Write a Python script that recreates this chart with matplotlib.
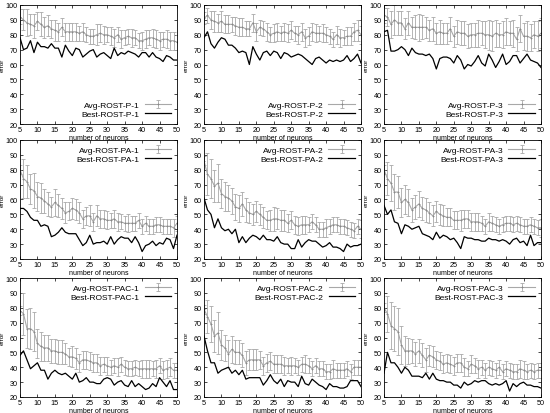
import matplotlib.pyplot as plt
import numpy as np

neurons = np.arange(5, 51)

# ---- ROST-P ----
avg_p1 = [92, 90, 88, 87, 86, 89, 87, 85, 86, 84, 83, 82, 85, 82, 82, 82, 82, 81, 82, 80, 79, 79, 80,
          81, 80, 80, 79, 78, 80, 77, 78, 79, 78, 78, 76, 76, 77, 78, 78, 77, 76, 77, 77, 76, 76, 75]
err_p1 = [5, 7, 9, 7, 8, 6, 8, 7, 7, 6, 7, 6, 6, 6, 6, 6, 6, 5, 6, 5, 5, 5, 7,
          6, 6, 5, 6, 6, 5, 6, 5, 5, 6, 5, 5, 6, 6, 5, 6, 6, 6, 5, 6, 6, 6, 5]
best_p1 = [78, 70, 71, 76, 68, 75, 72, 72, 71, 74, 71, 71, 65, 73, 69, 66, 71, 70, 65, 67, 69, 70, 65,
           67, 68, 66, 64, 71, 66, 68, 67, 69, 68, 67, 65, 68, 68, 65, 68, 65, 64, 62, 66, 65, 63, 63]

avg_p2 = [91, 93, 90, 89, 88, 89, 87, 87, 87, 86, 85, 85, 84, 84, 88, 82, 85, 84, 82, 80, 81, 82, 81,
          82, 81, 83, 81, 80, 82, 78, 79, 82, 81, 81, 81, 80, 79, 77, 80, 78, 78, 79, 79, 82, 83, 80]
err_p2 = [4, 5, 6, 7, 6, 7, 6, 6, 5, 6, 6, 6, 5, 5, 6, 6, 5, 5, 6, 5, 6, 6, 5,
          6, 6, 6, 5, 6, 6, 6, 6, 6, 6, 5, 6, 5, 5, 5, 6, 6, 5, 6, 6, 6, 7, 6]
best_p2 = [78, 82, 74, 71, 75, 78, 77, 73, 73, 71, 68, 69, 68, 60, 72, 67, 63, 68, 69, 66, 69, 68, 64,
           68, 67, 65, 66, 67, 66, 64, 62, 60, 64, 65, 63, 61, 63, 62, 63, 62, 63, 66, 62, 64, 67, 61]

avg_p3 = [93, 92, 87, 90, 88, 88, 84, 88, 85, 85, 85, 85, 85, 83, 84, 81, 82, 81, 81, 84, 79, 82, 81,
          81, 79, 80, 80, 81, 81, 80, 80, 79, 81, 80, 80, 82, 81, 81, 77, 84, 79, 79, 78, 80, 79, 81]
err_p3 = [5, 6, 9, 10, 8, 8, 7, 8, 7, 8, 9, 8, 7, 7, 8, 7, 8, 7, 7, 8, 7, 8, 8,
          8, 8, 8, 8, 9, 8, 9, 10, 10, 9, 8, 9, 9, 8, 9, 8, 9, 9, 10, 9, 9, 10, 10]
best_p3 = [82, 83, 69, 69, 70, 72, 70, 66, 71, 68, 67, 67, 66, 67, 64, 57, 64, 65, 65, 64, 61, 66, 63,
           57, 60, 59, 62, 66, 61, 59, 67, 63, 58, 62, 67, 60, 62, 66, 66, 61, 64, 67, 63, 62, 61, 58]

# ---- ROST-PA ----
avg_pa1 = [80, 74, 72, 67, 66, 62, 61, 59, 57, 55, 58, 56, 54, 51, 52, 54, 53, 51, 47, 49, 49, 45, 49,
           47, 47, 46, 46, 47, 45, 45, 44, 44, 44, 44, 46, 42, 44, 42, 42, 43, 43, 42, 42, 42, 41, 44]
err_pa1 = [3, 13, 11, 10, 12, 10, 10, 8, 8, 7, 9, 8, 7, 7, 6, 7, 7, 7, 6, 6, 7, 6, 7,
           6, 6, 6, 5, 6, 6, 5, 5, 6, 5, 5, 5, 5, 5, 5, 5, 5, 5, 5, 5, 5, 6, 5]
best_pa1 = [54, 54, 52, 48, 46, 46, 42, 43, 42, 35, 36, 38, 41, 38, 37, 37, 37, 33, 29, 31, 36, 30, 31,
            31, 32, 30, 35, 30, 33, 35, 34, 34, 31, 35, 31, 25, 29, 30, 32, 29, 31, 30, 34, 33, 27, 36]

avg_pa2 = [86, 77, 74, 69, 71, 64, 62, 61, 59, 55, 54, 57, 53, 51, 50, 52, 50, 48, 46, 46, 47, 47, 46,
           46, 44, 46, 43, 42, 43, 43, 43, 45, 43, 40, 40, 41, 42, 43, 43, 42, 42, 41, 40, 39, 42, 40]
err_pa2 = [3, 14, 13, 11, 13, 10, 10, 9, 9, 9, 9, 8, 8, 7, 7, 7, 7, 7, 6, 7, 8, 7, 7,
           7, 6, 6, 6, 6, 6, 6, 5, 5, 5, 5, 5, 6, 5, 5, 5, 5, 5, 5, 5, 5, 5, 6]
best_pa2 = [61, 53, 50, 41, 47, 41, 39, 40, 37, 40, 31, 35, 31, 34, 36, 35, 33, 36, 33, 33, 32, 35, 31,
            30, 30, 27, 27, 33, 28, 31, 33, 32, 32, 30, 28, 29, 31, 28, 28, 27, 25, 30, 28, 29, 29, 30]

avg_pa3 = [80, 74, 71, 65, 65, 58, 60, 58, 53, 55, 57, 54, 53, 51, 49, 52, 50, 49, 48, 48, 46, 46, 46,
           47, 47, 45, 45, 45, 44, 42, 45, 44, 43, 42, 43, 44, 44, 43, 44, 43, 42, 42, 43, 42, 41, 41]
err_pa3 = [3, 11, 12, 12, 11, 10, 10, 9, 8, 8, 9, 8, 8, 7, 7, 7, 7, 7, 6, 6, 6, 6, 7,
           6, 6, 6, 6, 6, 5, 5, 6, 5, 5, 5, 5, 5, 5, 5, 5, 5, 5, 5, 5, 5, 5, 6]
best_pa3 = [56, 50, 53, 45, 44, 37, 43, 42, 40, 41, 42, 37, 36, 35, 33, 38, 34, 36, 35, 33, 34, 31, 27,
            35, 34, 34, 33, 33, 32, 32, 34, 33, 33, 32, 33, 32, 30, 33, 34, 31, 32, 29, 36, 29, 31, 31]

# ---- ROST-PAC ----
avg_pac1 = [78, 76, 66, 66, 64, 56, 54, 53, 53, 51, 51, 50, 50, 49, 47, 47, 46, 43, 45, 45, 44, 43, 43,
            41, 42, 41, 40, 41, 40, 42, 40, 39, 39, 40, 39, 39, 39, 39, 39, 39, 41, 38, 39, 40, 38, 38]
err_pac1 = [3, 14, 13, 14, 13, 10, 10, 9, 9, 8, 8, 8, 8, 7, 6, 7, 7, 6, 6, 6, 6, 6, 6,
            6, 5, 6, 5, 5, 6, 5, 5, 5, 5, 5, 5, 6, 6, 6, 5, 6, 5, 6, 6, 6, 5, 5]
best_pac1 = [48, 51, 45, 39, 41, 43, 38, 38, 32, 36, 38, 36, 35, 36, 34, 32, 36, 30, 31, 33, 30, 30, 29,
             29, 32, 33, 32, 28, 30, 31, 28, 27, 31, 27, 29, 27, 25, 26, 29, 27, 33, 30, 27, 31, 25, 25]

avg_pac2 = [79, 74, 69, 61, 63, 55, 53, 49, 52, 50, 50, 48, 43, 45, 45, 45, 45, 41, 43, 44, 42, 42, 42,
            41, 41, 41, 41, 40, 42, 42, 41, 39, 41, 39, 39, 37, 37, 39, 38, 38, 38, 39, 37, 40, 40, 40]
err_pac2 = [3, 11, 12, 11, 14, 10, 9, 9, 9, 8, 8, 8, 8, 7, 7, 7, 6, 6, 6, 6, 6, 6, 6,
            6, 5, 6, 5, 5, 5, 6, 5, 5, 5, 5, 5, 5, 5, 6, 5, 5, 5, 5, 5, 5, 5, 5]
best_pac2 = [61, 51, 43, 43, 36, 38, 39, 40, 36, 38, 35, 38, 32, 33, 33, 33, 33, 28, 31, 35, 31, 29, 32,
             27, 31, 30, 30, 27, 34, 29, 28, 32, 30, 28, 27, 25, 29, 27, 27, 26, 26, 27, 31, 31, 31, 27]

avg_pac3 = [80, 76, 68, 66, 64, 55, 51, 51, 51, 49, 51, 48, 45, 48, 47, 45, 44, 42, 43, 42, 41, 43, 43,
            40, 39, 42, 41, 39, 40, 38, 40, 39, 38, 40, 37, 39, 38, 37, 37, 39, 38, 37, 38, 37, 38, 38]
err_pac3 = [3, 12, 16, 15, 16, 13, 10, 9, 8, 8, 8, 8, 8, 7, 7, 6, 6, 6, 6, 6, 6, 6, 6,
            6, 5, 6, 5, 6, 5, 5, 5, 5, 5, 5, 5, 5, 5, 5, 5, 6, 6, 5, 5, 5, 5, 5]
best_pac3 = [36, 50, 43, 43, 40, 36, 40, 38, 34, 34, 34, 33, 36, 32, 36, 32, 31, 31, 30, 30, 28, 28, 26,
             30, 28, 29, 31, 30, 31, 31, 29, 28, 29, 28, 29, 31, 24, 29, 27, 29, 30, 28, 28, 27, 27, 26]

panels = [
    ("Avg-ROST-P-1", "Best-ROST-P-1", avg_p1, err_p1, best_p1),
    ("Avg-ROST-P-2", "Best-ROST-P-2", avg_p2, err_p2, best_p2),
    ("Avg-ROST-P-3", "Best-ROST-P-3", avg_p3, err_p3, best_p3),
    ("Avg-ROST-PA-1", "Best-ROST-PA-1", avg_pa1, err_pa1, best_pa1),
    ("Avg-ROST-PA-2", "Best-ROST-PA-2", avg_pa2, err_pa2, best_pa2),
    ("Avg-ROST-PA-3", "Best-ROST-PA-3", avg_pa3, err_pa3, best_pa3),
    ("Avg-ROST-PAC-1", "Best-ROST-PAC-1", avg_pac1, err_pac1, best_pac1),
    ("Avg-ROST-PAC-2", "Best-ROST-PAC-2", avg_pac2, err_pac2, best_pac2),
    ("Avg-ROST-PAC-3", "Best-ROST-PAC-3", avg_pac3, err_pac3, best_pac3),
]

plt.rcParams['font.family'] = ['Liberation Sans', 'DejaVu Sans']

fig = plt.figure(figsize=(5.5, 4.14), dpi=100)
lefts = [20 / 550, 204 / 550, 384 / 550]
bottoms = [1 - 125 / 414, 1 - 260 / 414, 1 - 398 / 414]
w = 157 / 550
h = 119 / 414

for i, (lab_avg, lab_best, avg, err, best) in enumerate(panels):
    r, c = divmod(i, 3)
    ax = fig.add_axes([lefts[c], bottoms[r], w, h])
    eb = ax.errorbar(neurons, avg, yerr=err, color='#a8a8a8', lw=0.8, elinewidth=0.6,
                     capsize=1.2, capthick=0.6, marker='+', ms=2, mew=0.6, mec='#888888')
    ln, = ax.plot(neurons, best, color='black', lw=0.9)
    ax.set_xlim(5, 50)
    ax.set_ylim(20, 100)
    ax.set_xticks(range(5, 51, 5))
    ax.set_yticks(range(20, 101, 10))
    ax.tick_params(direction='in', length=2, width=0.5, labelsize=5.2, pad=1.5,
                   top=True, right=True)
    for s in ax.spines.values():
        s.set_linewidth(0.6)
    ax.set_xlabel("number of neurons", fontsize=5, labelpad=1)
    ax.set_ylabel("error", fontsize=4.6)
    ax.yaxis.set_label_coords(-0.098, 0.5)
    loc = 'lower right' if r == 0 else 'upper right'
    ax.legend([eb, ln], [lab_avg, lab_best], loc=loc, frameon=False, markerfirst=False,
              fontsize=6, handlelength=3.2, handletextpad=0.6, borderaxespad=0.3,
              labelspacing=0.15)

fig.savefig("out.png", dpi=100)
